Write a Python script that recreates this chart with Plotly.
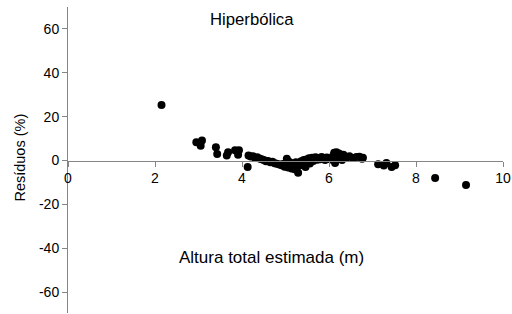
import plotly.graph_objects as go

# Estimated height (m) and residuals (%)
altura = [2.15, 2.95, 3.08, 3.05, 3.40, 3.43, 3.65, 3.68, 3.84, 3.93, 3.91, 4.13,
          4.15, 4.20, 4.25, 4.30, 4.35, 4.40, 4.45, 4.50, 4.55, 4.60, 4.65, 4.70,
          4.75, 4.80, 4.86, 4.91, 4.94, 4.98, 5.01, 5.03, 5.06, 5.08, 5.11, 5.14,
          5.16, 5.18, 5.21, 5.24, 5.26, 5.29, 5.31, 5.34, 5.36, 5.39, 5.42, 5.44,
          5.46, 5.48, 5.51, 5.54, 5.56, 5.58, 5.61, 5.64, 5.66, 5.69, 5.73, 5.77,
          5.80, 5.83, 5.87, 5.91, 5.95, 5.99, 6.03, 6.07, 6.10, 6.12, 6.14, 6.15,
          6.17, 6.19, 6.21, 6.23, 6.25, 6.27, 6.30, 6.33, 6.37, 6.42, 6.47, 6.55,
          6.63, 6.70, 6.76, 6.78, 7.13, 7.26, 7.32, 7.44, 7.52, 8.44, 9.15]
residuos = [25.3, 8.3, 9.1, 6.8, 6.1, 3.0, 2.3, 3.8, 4.7, 4.7, 2.7, -2.9,
            2.3, 1.8, 2.0, 1.2, 1.5, 0.9, 0.6, 0.2, -0.3, -0.2, -0.8, -0.6,
            -1.2, -1.5, -1.8, -2.2, -1.6, -2.8, -2.4, 0.8, -3.2, -0.5, -2.0, -3.6,
            -1.2, -2.7, -4.0, -0.8, -3.0, -5.6, -1.5, -2.2, -0.3, -1.8, 0.2, -1.0,
            -2.9, 0.5, -0.6, 1.0, -1.4, 0.3, 1.3, -0.2, 0.8, 1.5, 0.4, 1.2,
            0.6, 1.6, 0.9, 0.2, 1.4, 0.7, 1.1, 0.4, 2.3, 3.5, -1.1, 1.5,
            3.8, 0.8, 2.8, 3.2, 1.2, 2.2, 0.3, 2.6, 1.8, 1.5, 2.0, 1.2,
            1.6, 1.7, 0.8, 1.3, -1.7, -2.3, -1.1, -2.9, -2.1, -7.9, -11.2]

x_ticks = [0, 2, 4, 6, 8, 10]
x_ticktext = ["0", "2", "4", "6", "8", "10"]
y_ticks = [-60, -40, -20, 0, 20, 40, 60]
y_ticktext = ["-60", "-40", "-20", "0", "20", "40", "60"]

FONT = "Liberation Sans, Arial, sans-serif"
AXIS_COLOR = "#858585"

fig = go.Figure()
fig.add_trace(go.Scatter(
    x=altura, y=residuos, mode="markers",
    marker=dict(color="black", size=8, line=dict(width=0)),
    showlegend=False, hoverinfo="skip", cliponaxis=False))

y_lo, y_hi = -69.5, 70
fig.update_layout(
    width=512, height=314,
    margin=dict(l=68, r=9, t=7, b=1, autoexpand=False),
    paper_bgcolor="white", plot_bgcolor="white",
    font=dict(family=FONT, size=14, color="black"),
    xaxis=dict(range=[0, 10], tickvals=x_ticks, ticktext=x_ticktext,
               showgrid=False, zeroline=False, automargin=False,
               showline=True, linecolor=AXIS_COLOR, linewidth=1,
               ticks="outside", ticklen=5, tickcolor=AXIS_COLOR,
               anchor="free", position=(0 - y_lo) / (y_hi - y_lo),
               ticklabeloverflow="allow",
               tickfont=dict(size=14, family=FONT, color="black")),
    yaxis=dict(range=[y_lo, y_hi], tickvals=y_ticks, ticktext=y_ticktext,
               showgrid=False, zeroline=False, automargin=False,
               showline=True, linecolor=AXIS_COLOR, linewidth=1,
               ticks="outside", ticklen=5, tickcolor=AXIS_COLOR,
               ticklabeloverflow="allow",
               tickfont=dict(size=14, family=FONT, color="black")),
    annotations=[
        dict(text="Hiperbólica", x=0.4223, y=64.1, xref="paper", yref="y",
             xanchor="center", yanchor="middle",
             showarrow=False, font=dict(size=16.7, family=FONT)),
        dict(text="Altura total estimada (m)", x=0.4685, y=-44.4, xref="paper", yref="y",
             xanchor="center", yanchor="middle",
             showarrow=False, font=dict(size=17, family=FONT)),
        dict(text="Resíduos (%)", x=-0.1103, y=0.508, xref="paper", yref="paper",
             xanchor="center", yanchor="middle",
             textangle=-90, showarrow=False, font=dict(size=14.5, family=FONT)),
    ],
)

fig.write_html("out.html", config={"displayModeBar": False},
               post_script="document.body.style.margin='0';document.body.style.overflow='hidden';")
